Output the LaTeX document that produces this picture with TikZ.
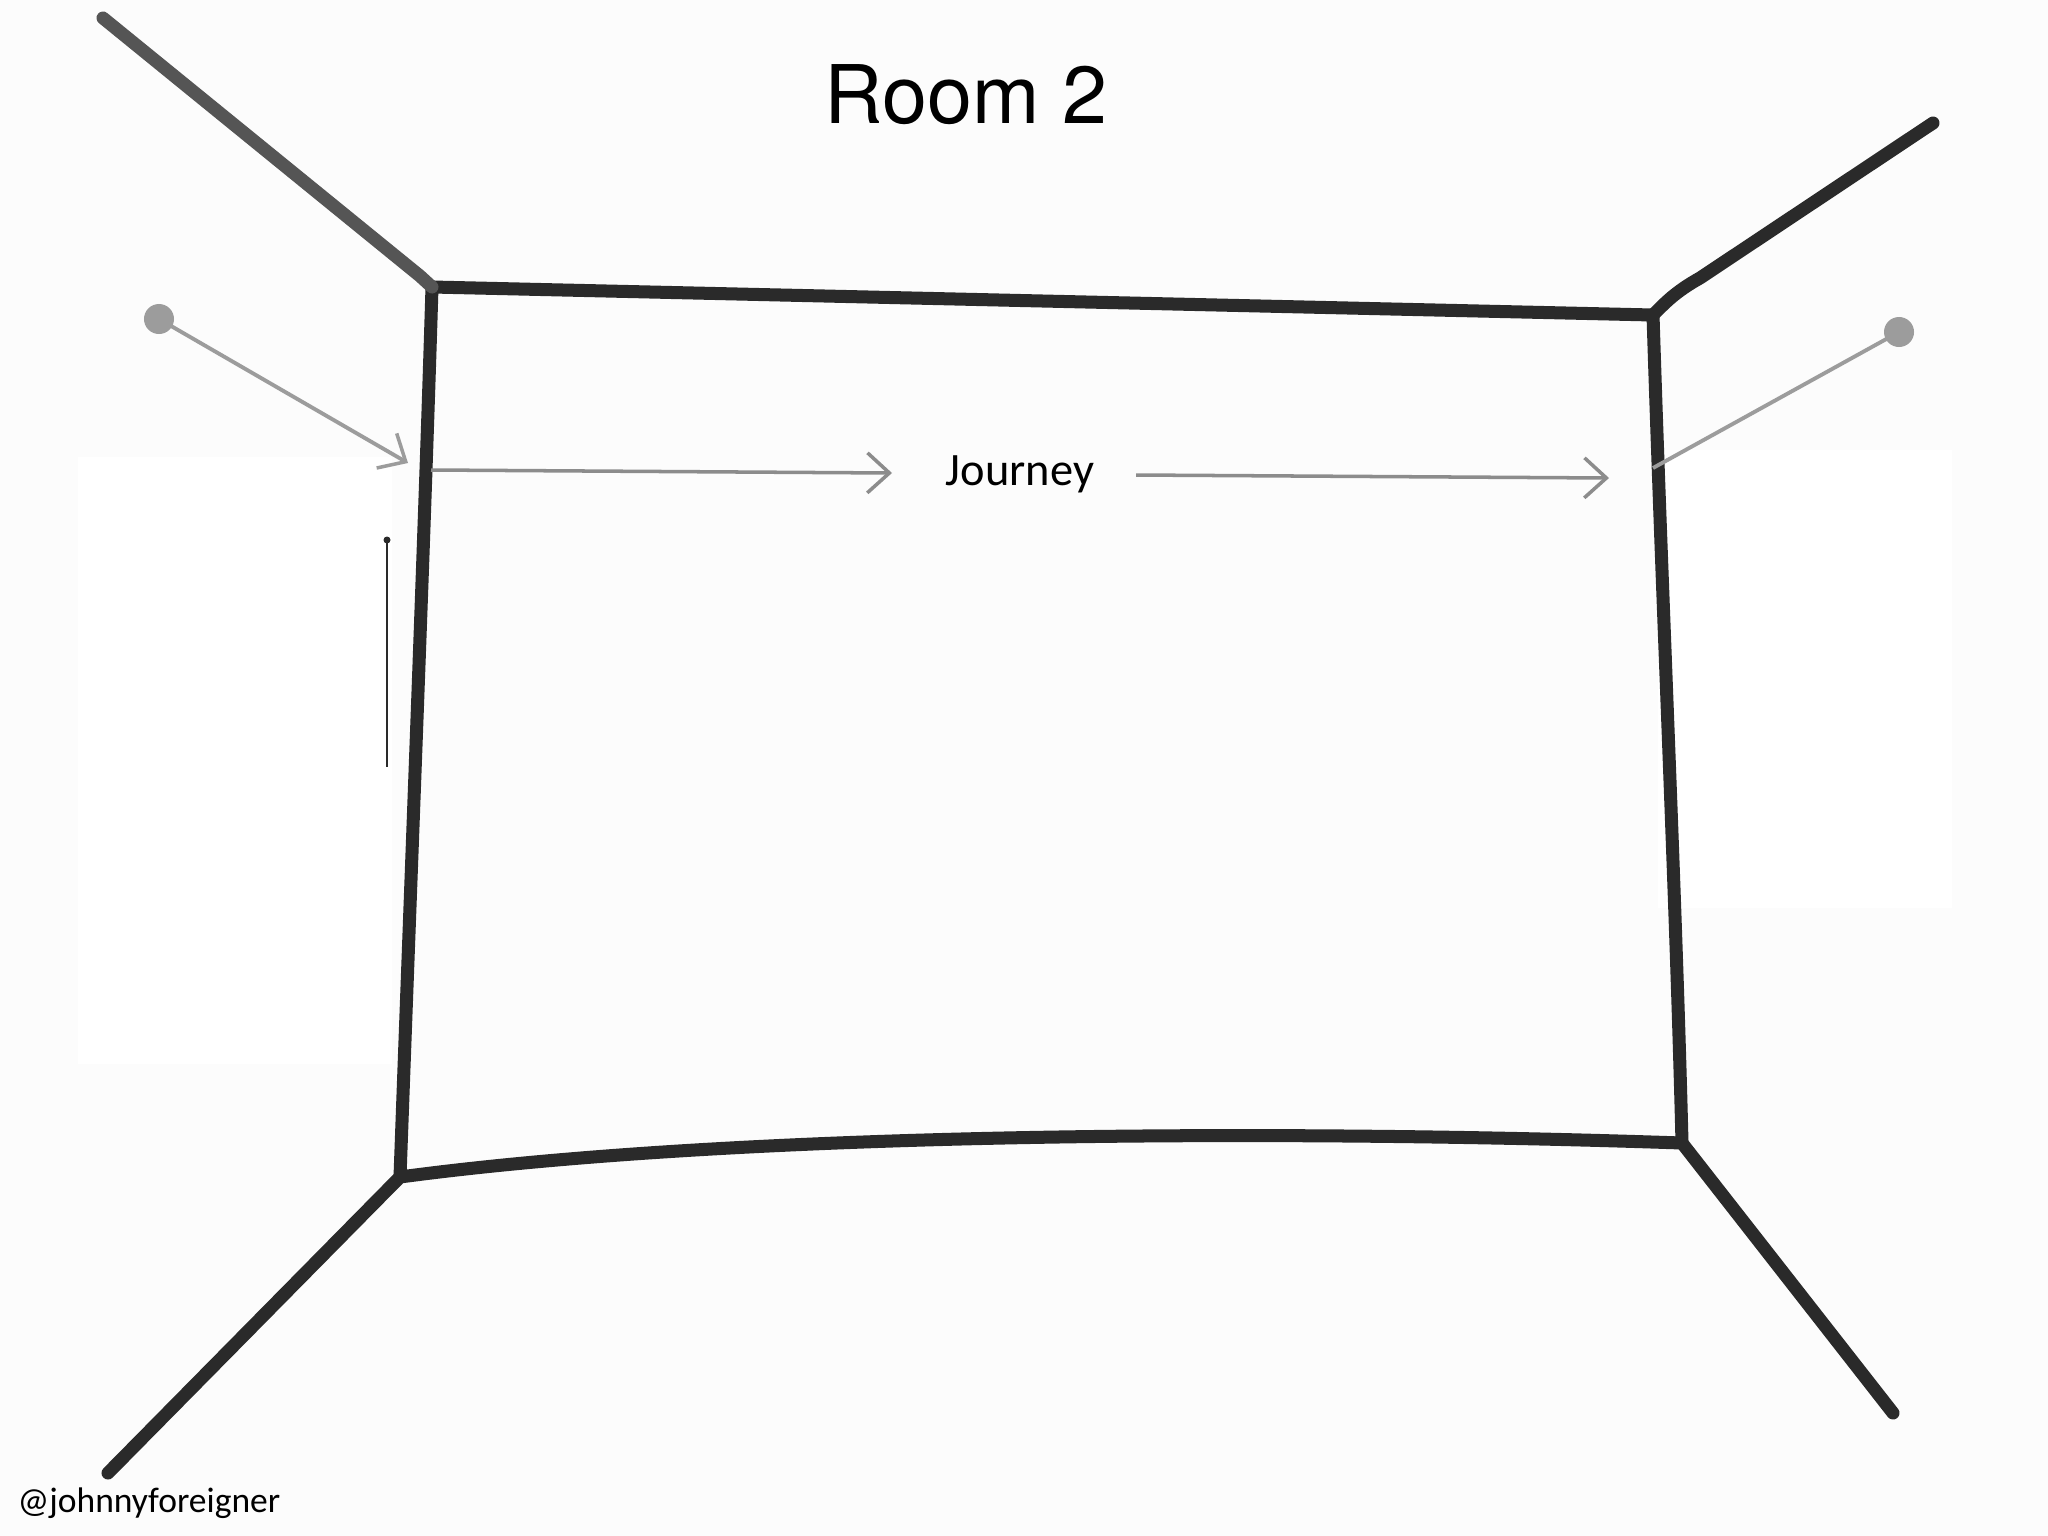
\documentclass[tikz,border=0pt]{standalone}
\usepackage{fontspec}
\setmainfont{TeX Gyre Heros}
\newfontfamily\notefont{Carlito}
\usetikzlibrary{arrows.meta}
\definecolor{wallgrey}{HTML}{2A2A2A}
\definecolor{ceilgrey}{HTML}{555555}
\definecolor{pingrey}{HTML}{9C9C9C}
\definecolor{pathgrey}{HTML}{8C8C8C}
\definecolor{paper}{HTML}{FCFCFC}
\tikzset{
  wall/.style={line width=3.7pt,draw=wallgrey,line cap=round,line join=round},
  pinline/.style={line width=1.1pt,draw=pingrey},
  pinhead/.style={fill=pingrey},
  journey/.style={line width=1pt,draw=pathgrey,-{Straight Barb[length=2.2mm,width=4mm,line width=1pt]}}
}
\begin{document}
\begin{tikzpicture}[x=0.01cm,y=-0.01cm]
\useasboundingbox (0,0) rectangle (2048,1536);
\fill [paper] (0,0) rectangle (2048,1536);
\fill [white] (78,457) rectangle (392,1064);
\fill [white] (1658,450) rectangle (1952,908);

\coordinate (tl) at (432,287);
\coordinate (tr) at (1653,315);
\coordinate (br) at (1682,1143);
\coordinate (bl) at (400,1177);
\coordinate (tlout) at (103,18);
\coordinate (trout) at (1933,123);
\coordinate (brout) at (1893,1413);
\coordinate (blout) at (108,1473);

\draw [wall] (tl) -- (tr) .. controls (1662,600) and (1676,900) .. (br)
  .. controls (1300,1130) and (750,1130) .. (bl)
  .. controls (410,900) and (425,520) .. cycle;
\draw [wall,draw=ceilgrey] (tl) -- (420,276) -- (tlout);
\draw [wall] (tr) .. controls (1665,303) and (1675,292) .. (1700,278) -- (trout);
\draw [wall] (br) -- (brout);
\draw [wall] (bl) -- (blout);

\coordinate (pinl) at (159,319);
\coordinate (pinr) at (1899,332);
\coordinate (hitl) at (408,463);
\coordinate (hitr) at (1653,468);
\fill [pinhead] (pinl) circle [radius=1.5mm];
\fill [pinhead] (pinr) circle [radius=1.5mm];
\draw [pinline,-{Straight Barb[length=2.2mm,width=4mm,line width=1pt]}] (pinl) -- (hitl);
\draw [pinline] (pinr) -- (hitr);

\node (jny) at (1020,485) [anchor=base,inner sep=0pt] {\notefont\fontsize{13.2}{16}\selectfont Journey};
\coordinate (jl0) at (431,470);
\coordinate (jl1) at (892,473);
\coordinate (jr0) at (1136,475);
\coordinate (jr1) at (1609,478);
\draw [journey] (jl0) -- (jl1);
\draw [journey] (jr0) -- (jr1);

\draw [line width=0.6pt,draw=wallgrey] (387,540) -- (387,767);
\fill [wallgrey] (387,540) circle [radius=0.35mm];

\node (title) at (966,123) [anchor=base,inner sep=0pt] {\fontsize{23}{28}\selectfont Room 2};
\node (credit) at (17,1512) [anchor=base west,inner sep=0pt] {\notefont\fontsize{10.1}{12}\selectfont @johnnyforeigner};
\end{tikzpicture}
\end{document}
